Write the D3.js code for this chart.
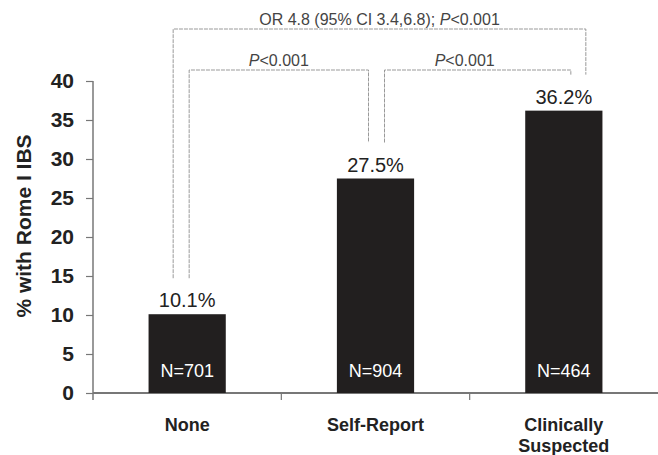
<!DOCTYPE html>
<html>
<head>
<meta charset="utf-8">
<script src="https://cdn.jsdelivr.net/npm/d3@7"></script>
<style>
  body { margin: 0; background: #fff; }
  svg { display: block; font-family: "Liberation Sans", Arial, Helvetica, sans-serif; }
</style>
</head>
<body>
<svg id="chart"></svg>
<script>
var width = 658, height = 455;

// data
var categories = ["None", "Self-Report", "Clinically Suspected"];
var percents = [10.1, 27.5, 36.2];
var counts = [701, 904, 464];
var yTicks = [0, 5, 10, 15, 20, 25, 30, 35, 40];
// comparisons: from category, to category, label
var compFrom = ["None", "Self-Report", "None"];
var compTo = ["Self-Report", "Clinically Suspected", "Clinically Suspected"];
var compLabel = ["P<0.001", "P<0.001", "OR 4.8 (95% CI 3.4,6.8); P<0.001"];

var svg = d3.select("#chart").attr("width", width).attr("height", height);

var margin = {top: 81, left: 93, bottom: 62, right: 0};
var chartBottom = height - margin.bottom;

var x = d3.scaleBand().domain(categories).range([margin.left, width]).padding(0);
var y = d3.scaleLinear().domain([0, 40]).range([chartBottom, margin.top]);
var barW = x.bandwidth() * 0.41;
function cx(c) { return x(c) + x.bandwidth() / 2; }

// y axis
var yAxis = d3.axisLeft(y).tickValues(yTicks).tickSize(7).tickPadding(12).tickSizeOuter(0);
var gy = svg.append("g").attr("transform", "translate(" + margin.left + ",0)").call(yAxis);
gy.select(".domain").attr("stroke", "#777").attr("stroke-width", 1.5)
  .attr("d", "M0," + y(40) + "V" + (chartBottom + 7));
gy.selectAll(".tick line").attr("stroke", "#777").attr("stroke-width", 1.2);
gy.selectAll(".tick text").attr("fill", "#222").style("font-size", "21px").style("font-weight", "bold");

// x axis line and boundary ticks
svg.append("line").attr("x1", margin.left).attr("x2", width)
  .attr("y1", chartBottom).attr("y2", chartBottom)
  .attr("stroke", "#777").attr("stroke-width", 2);
var bounds = categories.slice(1).map(function(c) { return x(c); });
svg.selectAll(".xt").data(bounds).enter().append("line")
  .attr("x1", function(d) { return d; }).attr("x2", function(d) { return d; })
  .attr("y1", chartBottom).attr("y2", chartBottom + 7)
  .attr("stroke", "#777").attr("stroke-width", 1.2);

// category labels
svg.selectAll(".cat").data(categories).enter().append("text")
  .attr("text-anchor", "middle").attr("fill", "#222")
  .style("font-size", "18px").style("font-weight", "bold")
  .each(function(d) {
    var words = d === "Clinically Suspected" ? ["Clinically", "Suspected"] : [d];
    var t = d3.select(this);
    words.forEach(function(w, i) {
      t.append("tspan").attr("x", cx(d)).attr("y", chartBottom + 38 + i * 21).text(w);
    });
  });

// y axis title
svg.append("text")
  .attr("transform", "translate(31,226) rotate(-90)")
  .attr("text-anchor", "middle").attr("fill", "#222")
  .style("font-size", "21px").style("font-weight", "bold")
  .text("% with Rome I IBS");

// bars
svg.selectAll(".bar").data(categories).enter().append("rect")
  .attr("x", function(d) { return cx(d) - barW / 2; })
  .attr("y", function(d, i) { return y(percents[i]); })
  .attr("width", barW)
  .attr("height", function(d, i) { return chartBottom - y(percents[i]); })
  .attr("fill", "#221f1f");

// value labels
svg.selectAll(".val").data(categories).enter().append("text")
  .attr("x", cx).attr("y", function(d, i) { return y(percents[i]) - 7; })
  .attr("text-anchor", "middle").attr("fill", "#222").style("font-size", "20px")
  .text(function(d, i) { return percents[i].toFixed(1) + "%"; });

// N labels
svg.selectAll(".n").data(categories).enter().append("text")
  .attr("x", cx).attr("y", chartBottom - 16)
  .attr("text-anchor", "middle").attr("fill", "#fff").style("font-size", "18px")
  .text(function(d, i) { return "N=" + counts[i]; });

// comparison brackets
function legBottom(c) { return y(percents[categories.indexOf(c)]) - 36; }
var levels = [70, 70, 29];
var offFrom = [2, 9, -14];
var offTo = [-7, 7, 22];
compLabel.forEach(function(lab, i) {
  var x1 = cx(compFrom[i]) + offFrom[i], x2 = cx(compTo[i]) + offTo[i];
  var top = levels[i];
  svg.append("path")
    .attr("d", "M" + x1 + "," + legBottom(compFrom[i]) + "V" + top + "H" + x2 + "V" + legBottom(compTo[i]))
    .attr("fill", "none").attr("stroke", "#999").attr("stroke-width", 1)
    .attr("stroke-dasharray", "4,1");
  var t = svg.append("text").attr("x", (x1 + x2) / 2 - (i === 1 ? 13 : 0)).attr("y", top - 4)
    .attr("text-anchor", "middle").attr("fill", "#444").style("font-size", "16px");
  // italic P
  var parts = lab.split("P<");
  t.append("tspan").text(parts[0]);
  t.append("tspan").style("font-style", "italic").text("P");
  t.append("tspan").text("<" + parts[1]);
});
</script>
</body>
</html>
